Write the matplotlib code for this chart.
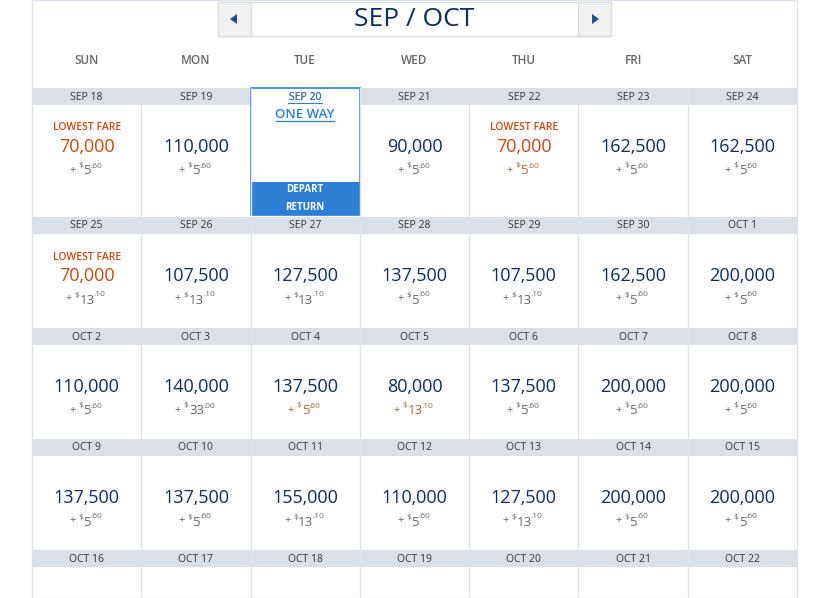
import matplotlib
matplotlib.use("Agg")
import matplotlib.pyplot as plt
from matplotlib.patches import Rectangle, Polygon

days = ["SUN", "MON", "TUE", "WED", "THU", "FRI", "SAT"]
dates = [["SEP 18", "SEP 19", "SEP 20", "SEP 21", "SEP 22", "SEP 23", "SEP 24"],
         ["SEP 25", "SEP 26", "SEP 27", "SEP 28", "SEP 29", "SEP 30", "OCT 1"],
         ["OCT 2", "OCT 3", "OCT 4", "OCT 5", "OCT 6", "OCT 7", "OCT 8"],
         ["OCT 9", "OCT 10", "OCT 11", "OCT 12", "OCT 13", "OCT 14", "OCT 15"],
         ["OCT 16", "OCT 17", "OCT 18", "OCT 19", "OCT 20", "OCT 21", "OCT 22"]]
miles = [["70,000", "110,000", None, "90,000", "70,000", "162,500", "162,500"],
         ["70,000", "107,500", "127,500", "137,500", "107,500", "162,500", "200,000"],
         ["110,000", "140,000", "137,500", "80,000", "137,500", "200,000", "200,000"],
         ["137,500", "137,500", "155,000", "110,000", "127,500", "200,000", "200,000"]]
fee_main = [["5", "5", None, "5", "5", "5", "5"],
            ["13", "13", "13", "5", "13", "5", "5"],
            ["5", "33", "5", "13", "5", "5", "5"],
            ["5", "5", "13", "5", "13", "5", "5"]]
fee_cents = [[".60", ".60", None, ".60", ".60", ".60", ".60"],
             [".10", ".10", ".10", ".60", ".10", ".60", ".60"],
             [".60", ".00", ".60", ".10", ".60", ".60", ".60"],
             [".60", ".60", ".10", ".60", ".10", ".60", ".60"]]
lowest = [(0, 0), (0, 4), (1, 0)]
orange_fee = [(0, 4), (2, 2), (2, 3)]

FONT = "Open Sans"
NAVY = "#0b2f63"
ORANGE = "#c9490f"
FEE_OR = "#b0652e"
GREY = "#666666"
BLUE = "#2d7fd6"

fig = plt.figure(figsize=(8.26, 5.98), dpi=100)
ax = fig.add_axes([0, 0, 1, 1])
ax.set_xlim(0, 826)
ax.set_ylim(598, 0)
ax.axis("off")

x0, x1 = 32, 797
cw = (x1 - x0) / 7
line = "#dde3ea"
ax.add_patch(Rectangle((x0, 0), x1 - x0, 598, fc="white", ec=line, lw=1))

# nav
ax.add_patch(Rectangle((218, 2), 393, 34, fc="white", ec="#dddddd", lw=1))
for bx in (218, 578):
    ax.add_patch(Rectangle((bx, 2), 33, 34, fc="#f1f1f1", ec="#dddddd", lw=1))
ax.add_patch(Polygon([[237, 14], [237, 24], [230, 19]], fc="#1a4f9c"))
ax.add_patch(Polygon([[592, 14], [592, 24], [599, 19]], fc="#1a4f9c"))
ax.text(414, 19, "SEP / OCT", ha="center", va="center", fontsize=19, color=NAVY, family=FONT)

for i, d in enumerate(days):
    ax.text(x0 + cw * (i + 0.5), 60, d, ha="center", va="center", fontsize=8.5,
            color="#666666", family=FONT, fontweight="semibold")

row_top = [88, 217, 328, 439, 550]
for r, top in enumerate(row_top):
    ax.add_patch(Rectangle((x0, top), x1 - x0, 17, fc="#d8e0e8", ec="none"))
    for c in range(7):
        cx = x0 + cw * (c + 0.5)
        ax.text(cx, top + 9, dates[r][c], ha="center", va="center", fontsize=7.5,
                color="#333333", family=FONT, fontweight="medium")
        if c > 0:
            ax.plot([x0 + cw * c] * 2, [top, min(top + 128, 598)], color=line, lw=1)
    if r < 4:
        for c in range(7):
            cx = x0 + cw * (c + 0.5)
            m = miles[r][c]
            if m is None:
                continue
            low = (r, c) in lowest
            my = top + 59
            if low:
                ax.text(cx, top + 40, "LOWEST FARE", ha="center", va="center", fontsize=7.5,
                        color=ORANGE, family=FONT, fontweight="semibold")
            ax.text(cx, my, m, ha="center", va="center", fontsize=13,
                    color=ORANGE if low else NAVY, family=FONT)
            fc = FEE_OR if (r, c) in orange_fee else GREY
            fy = top + 82
            big = fee_main[r][c]
            wbig = 7 * len(big)
            start = cx - (15 + wbig + 13) / 2
            ax.text(start, fy, "+", ha="left", va="center", fontsize=8, color=fc, family=FONT)
            ax.text(start + 9, fy - 4, "$", ha="left", va="center", fontsize=6, color=fc, family=FONT)
            ax.text(start + 14, fy + 1, big, ha="left", va="center", fontsize=9.5, color=fc, family=FONT)
            ax.text(start + 14 + wbig, fy - 4, fee_cents[r][c], ha="left", va="center", fontsize=6,
                    color=fc, family=FONT)

# selected cell
sx = x0 + cw * 2
ax.add_patch(Rectangle((sx, 88), cw, 127, fc="white", ec=BLUE, lw=1.2))
ax.add_patch(Rectangle((sx, 182), cw, 33, fc=BLUE, ec="none"))
scx = sx + cw / 2
ax.text(scx, 97, "SEP 20", ha="center", va="center", fontsize=7.5, color=BLUE, family=FONT)
ax.plot([scx - 17, scx + 17], [103, 103], color=BLUE, lw=0.8)
ax.text(scx, 114, "ONE WAY", ha="center", va="center", fontsize=9.5, color=BLUE, family=FONT,
        fontweight="semibold")
ax.plot([scx - 29, scx + 29], [121, 121], color=BLUE, lw=0.9)
ax.text(scx, 190, "DEPART", ha="center", va="center", fontsize=7, color="white", family=FONT,
        fontweight="bold")
ax.text(scx, 207, "RETURN", ha="center", va="center", fontsize=7, color="white", family=FONT,
        fontweight="bold")

fig.savefig("out.png", dpi=100)
